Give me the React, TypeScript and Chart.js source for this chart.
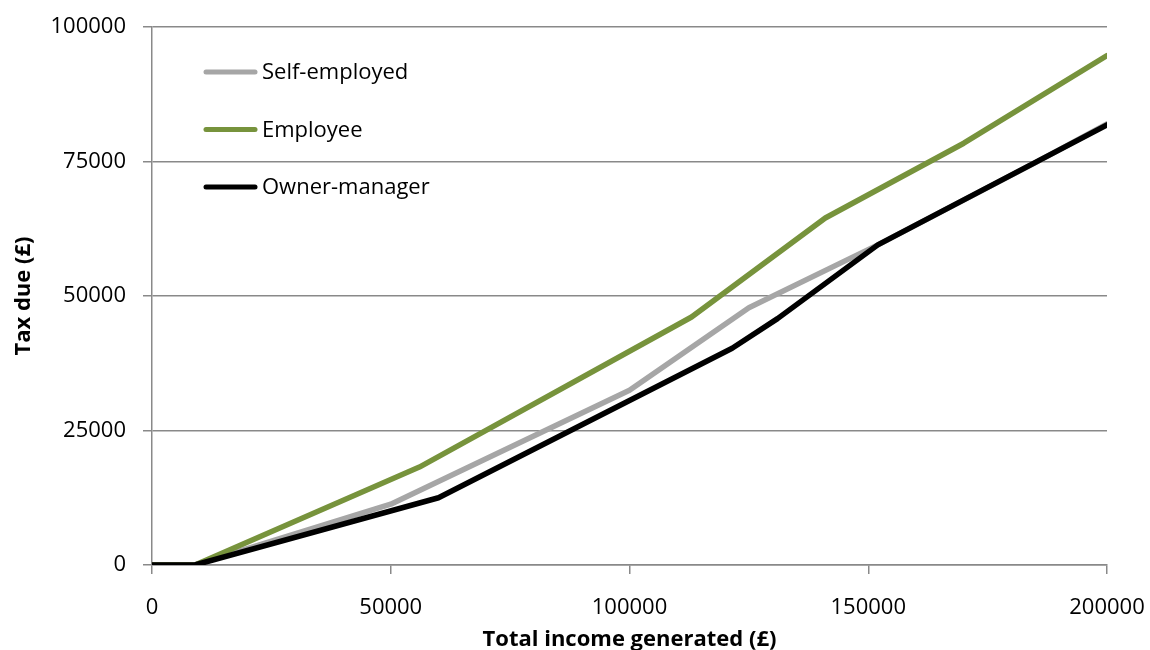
import { useEffect, useRef } from "react";
import { Chart, registerables } from "chart.js";

Chart.register(...registerables);

const xTicks = [0, 50000, 100000, 150000, 200000];
const yTicks = [0, 25000, 50000, 75000, 100000];

const seriesNames = ["Self-employed", "Employee", "Owner-manager"];

const selfEmployedIncome = [0, 9000, 50000, 100000, 125000, 152000, 185000, 200000];
const selfEmployedTax = [0, 0, 11300, 32500, 47800, 59500, 74800, 82000];

const employeeIncome = [0, 9000, 56000, 113000, 141000, 170000, 200000];
const employeeTax = [0, 0, 18200, 46100, 64500, 78400, 94700];

const ownerIncome = [0, 9000, 60000, 121500, 131000, 152000, 200000];
const ownerTax = [0, 0, 12500, 40300, 45800, 59500, 81800];

const xTitle = "Total income generated (£)";
const yTitle = "Tax due (£)";

const FONT = '"Open Sans", "Noto Sans", sans-serif';
const GRID = "#898989";

const toPoints = (xs: number[], ys: number[]) => xs.map((x, i) => ({ x, y: ys[i] }));

const insideLegend = {
  id: "insideLegend",
  afterDatasetsDraw(chart: any) {
    const { ctx, chartArea } = chart;
    ctx.save();
    chart.data.datasets.forEach((ds: any, i: number) => {
      const y = chartArea.top + 45 + i * 57.5;
      ctx.strokeStyle = ds.borderColor;
      ctx.lineWidth = 5;
      ctx.lineCap = "round";
      ctx.beginPath();
      ctx.moveTo(chartArea.left + 54, y);
      ctx.lineTo(chartArea.left + 103, y);
      ctx.stroke();
      ctx.fillStyle = "#000";
      ctx.font = `22px ${FONT}`;
      ctx.textBaseline = "middle";
      ctx.textAlign = "left";
      ctx.fillText(ds.label, chartArea.left + 110, y + 1);
    });
    ctx.restore();
  },
};

export default function App() {
  const canvasRef = useRef<HTMLCanvasElement | null>(null);

  useEffect(() => {
    let chart: Chart | null = null;
    let cancelled = false;
    const make = () => {
      if (cancelled || !canvasRef.current) return;
      chart = new Chart(canvasRef.current, {
        type: "line",
        data: {
          datasets: [
            {
              label: seriesNames[0],
              data: toPoints(selfEmployedIncome, selfEmployedTax),
              borderColor: "#A6A6A6",
              backgroundColor: "#A6A6A6",
              order: 2,
            },
            {
              label: seriesNames[1],
              data: toPoints(employeeIncome, employeeTax),
              borderColor: "#77933C",
              backgroundColor: "#77933C",
              order: 1,
            },
            {
              label: seriesNames[2],
              data: toPoints(ownerIncome, ownerTax),
              borderColor: "#000000",
              backgroundColor: "#000000",
              order: 0,
            },
          ],
        },
        options: {
          responsive: false,
          animation: false,
          devicePixelRatio: 1,
          layout: { padding: { top: 27, right: 43, left: 0, bottom: 0 } },
          elements: {
            line: { borderWidth: 5.5, tension: 0, borderCapStyle: "round", borderJoinStyle: "round", fill: false },
            point: { radius: 0, hoverRadius: 0 },
          },
          plugins: {
            legend: { display: false },
            tooltip: { enabled: false },
          },
          scales: {
            x: {
              type: "linear",
              min: 0,
              max: 200000,
              afterBuildTicks: (s: any) => {
                s.ticks = xTicks.map((v) => ({ value: v }));
              },
              afterFit: (s: any) => {
                s.height = 85;
                s.paddingLeft = 0;
                s.paddingRight = 0;
              },
              grid: {
                drawOnChartArea: false,
                drawTicks: true,
                tickLength: 9,
                color: GRID,
                lineWidth: 1.5,
              },
              border: { display: true, color: GRID, width: 1.5 },
              ticks: {
                color: "#000",
                padding: 21,
                maxRotation: 0,
                font: { family: FONT, size: 22 },
                callback: (v: any) => String(v),
              },
              title: {
                display: true,
                text: xTitle,
                color: "#000",
                font: { family: FONT, size: 22, weight: "bold", lineHeight: 1 },
                padding: { top: 0, bottom: -1 },
              },
            },
            y: {
              type: "linear",
              min: 0,
              max: 100000,
              afterBuildTicks: (s: any) => {
                s.ticks = yTicks.map((v) => ({ value: v }));
              },
              afterFit: (s: any) => {
                s.width = 152;
                s.paddingTop = 0;
                s.paddingBottom = 0;
              },
              grid: {
                drawOnChartArea: true,
                drawTicks: true,
                tickLength: 9,
                color: GRID,
                lineWidth: 1.5,
              },
              border: { display: true, color: GRID, width: 1.5 },
              ticks: {
                color: "#000",
                padding: 17,
                font: { family: FONT, size: 22 },
                callback: (v: any) => String(v),
              },
              title: {
                display: true,
                text: yTitle,
                color: "#000",
                font: { family: FONT, size: 22, weight: "bold", lineHeight: 1 },
                padding: { top: 13, bottom: 0 },
              },
            },
          },
        },
        plugins: [insideLegend],
      });
    };
    const fontsReady = (document as any).fonts
      ? Promise.all([
          (document as any).fonts.load(`22px "Open Sans"`),
          (document as any).fonts.load(`bold 22px "Open Sans"`),
        ]).catch(() => null)
      : Promise.resolve(null);
    fontsReady.then(make);
    return () => {
      cancelled = true;
      if (chart) chart.destroy();
    };
  }, []);

  return (
    <div style={{ position: "fixed", left: 0, top: 0, width: 1150, height: 650, background: "#fff" }}>
      <canvas ref={canvasRef} width={1150} height={650} style={{ width: 1150, height: 650, display: "block" }} />
    </div>
  );
}
